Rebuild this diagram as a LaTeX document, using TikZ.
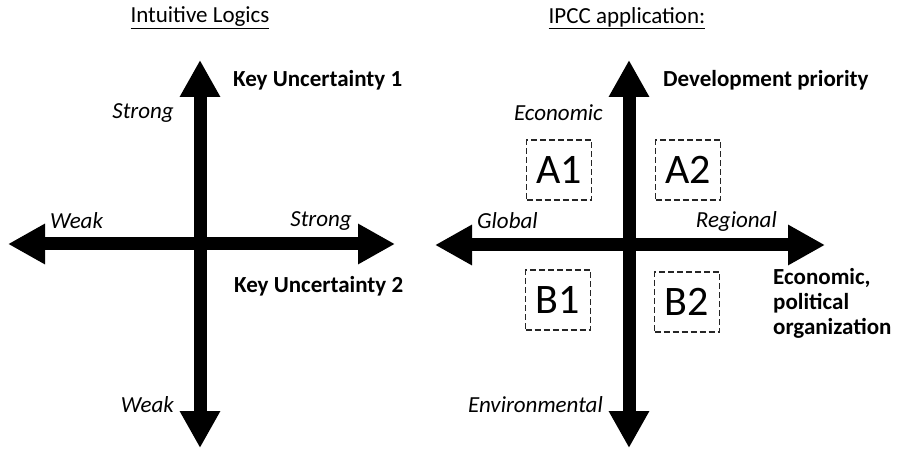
\documentclass[tikz,border=0pt]{standalone}
\usepackage{fontspec}
\setmainfont{Carlito}
\usetikzlibrary{arrows.meta}

\begin{document}
\begin{tikzpicture}[x=1pt,y=-1pt,
  axis/.style={line width=13pt,{Triangle[length=37pt,width=38pt]}-{Triangle[length=37pt,width=38pt]}},
  title/.style={inner sep=0pt,font=\fontsize{23}{27}\selectfont},
  pole/.style={inner sep=0pt,font=\fontsize{23}{27}\selectfont\itshape},
  keylabel/.style={inner sep=0pt,align=left,font=\fontsize{23}{25}\selectfont\bfseries},
  scen/.style={draw=black!85,dash pattern=on 6pt off 3pt,line width=1.3pt,minimum width=65pt,minimum height=60pt,inner sep=0pt,font=\fontsize{42}{42}\selectfont}]
\useasboundingbox (0,0) rectangle (900,449);
% left: intuitive logics
\coordinate (Ltop) at (200,60);
\coordinate (Lbot) at (200,448);
\coordinate (Lleft) at (8,244);
\coordinate (Lright) at (395,244);
\draw[axis] (Lleft) -- (Lright);
\draw[axis] (Lbot) -- (Ltop);
\node[title] (title1) at (200,18) {\underline{Intuitive Logics}};
\node[keylabel,anchor=west] (ku1) at (233,80) {Key Uncertainty 1};
\node[keylabel,anchor=west] (ku2) at (234,286) {Key Uncertainty 2};
\node[pole,anchor=east] (strongA) at (174,113) {Strong};
\node[pole,anchor=west] (weakA) at (50,221) {Weak};
\node[pole,anchor=east] (strongB) at (352,221) {Strong};
\node[pole,anchor=east] (weakB) at (174,405) {Weak};
% right: IPCC application
\coordinate (Rtop) at (629,60);
\coordinate (Rbot) at (629,448);
\coordinate (Rleft) at (435,245);
\coordinate (Rright) at (825,245);
\draw[axis] (Rleft) -- (Rright);
\draw[axis] (Rbot) -- (Rtop);
\node[title] (title2) at (627,18) {\underline{IPCC application:}};
\node[keylabel,anchor=west] (dev) at (663,80) {Development priority};
\node[keylabel,anchor=west] (org) at (773,303) {Economic,\\political\\organization};
\node[pole,anchor=east] (econ) at (603,113) {Economic};
\node[pole,anchor=west] (global) at (477,221) {Global};
\node[pole,anchor=east] (regional) at (777,221) {Regional};
\node[pole,anchor=east] (env) at (603,405) {Environmental};
\node[scen] (A1) at (559,170) {A1};
\node[scen] (A2) at (688,170) {A2};
\node[scen] (B1) at (558,300) {B1};
\node[scen] (B2) at (687,302) {B2};
\end{tikzpicture}
\end{document}
